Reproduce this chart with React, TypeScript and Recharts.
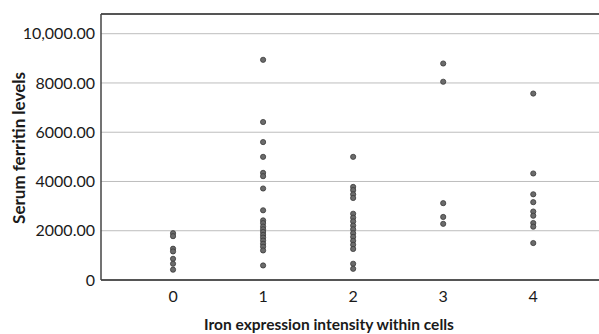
import { ScatterChart, Scatter, XAxis, YAxis, CartesianGrid, ReferenceLine, Label } from "recharts";

// iron expression intensity score per group
const categories = [0, 1, 2, 3, 4];
const yTicks = [0, 2000, 4000, 6000, 8000, 10000];
const yTickLabels = ["0", "2000.00", "4000.00", "6000.00", "8000.00", "10,000.00"];

// serum ferritin readings per intensity score
const score0 = [1900, 1780, 1270, 1160, 860, 660, 420];
const score1 = [8940, 6415, 5600, 5000, 4350, 4215, 3715, 2830, 2420, 2310, 2170, 2060, 1950, 1830, 1720, 1600, 1470, 1350, 1200, 590];
const score2 = [5000, 3780, 3650, 3480, 3330, 2690, 2530, 2380, 2210, 2060, 1900, 1750, 1590, 1430, 1260, 660, 455];
const score3 = [8790, 8050, 3120, 2560, 2280];
const score4 = [7570, 4325, 3480, 3160, 2780, 2610, 2315, 2165, 1500];

const groups = [score0, score1, score2, score3, score4];
const points = groups.flatMap((vals, i) => vals.map((v) => ({ x: categories[i], y: v })));

const FONT = "Lato, 'Open Sans', sans-serif";

const Dot = (props: any) => {
    const { cx, cy } = props;
    return <circle cx={cx} cy={cy} r={2.6} fill="#6b6b6b" stroke="#3a3a3a" strokeWidth={0.8} />;
};

export default function App() {
    return (
        <div style={{ position: "absolute", left: 0, top: 0, width: 599, height: 334, background: "#fff", overflow: "hidden" }}>
            <ScatterChart width={599} height={334} margin={{ top: 14, right: 0, bottom: 0, left: 0 }}>
                <CartesianGrid vertical={false} stroke="#bdbdbd" strokeWidth={1} />
                <XAxis
                    type="number"
                    dataKey="x"
                    domain={[-0.8, 4.73]}
                    ticks={categories}
                    allowDataOverflow
                    height={54}
                    tickLine={false}
                    tickMargin={5}
                    axisLine={{ stroke: "#555", strokeWidth: 2 }}
                    tick={{ fill: "#1a1a1a", fontSize: 16, fontFamily: FONT }}
                >
                    <Label
                        content={() => (
                            <text x={329} y={324} textAnchor="middle" dominantBaseline="central"
                                fontFamily={FONT} fontWeight="bold" fontSize={15.5} fill="#1a1a1a">
                                Iron expression intensity within cells
                            </text>
                        )}
                    />
                </XAxis>
                <YAxis
                    type="number"
                    dataKey="y"
                    domain={[0, 10800]}
                    ticks={yTicks}
                    allowDataOverflow
                    width={101}
                    tickLine={false}
                    tickMargin={0}
                    axisLine={{ stroke: "#444", strokeWidth: 1.5 }}
                    tickFormatter={(v: number) => yTickLabels[yTicks.indexOf(v)]}
                    tick={{ fill: "#1a1a1a", fontSize: 16, fontFamily: FONT }}
                >
                    <Label
                        content={() => (
                            <text x={18} y={148} textAnchor="middle" dominantBaseline="central"
                                transform="rotate(-90 18 148)"
                                fontFamily={FONT} fontWeight="bold" fontSize={17} fill="#1a1a1a">
                                Serum ferritin levels
                            </text>
                        )}
                    />
                </YAxis>
                <ReferenceLine y={10800} stroke="#555" strokeWidth={2} />
                <Scatter data={points} shape={<Dot />} isAnimationActive={false} />
            </ScatterChart>
        </div>
    );
}
